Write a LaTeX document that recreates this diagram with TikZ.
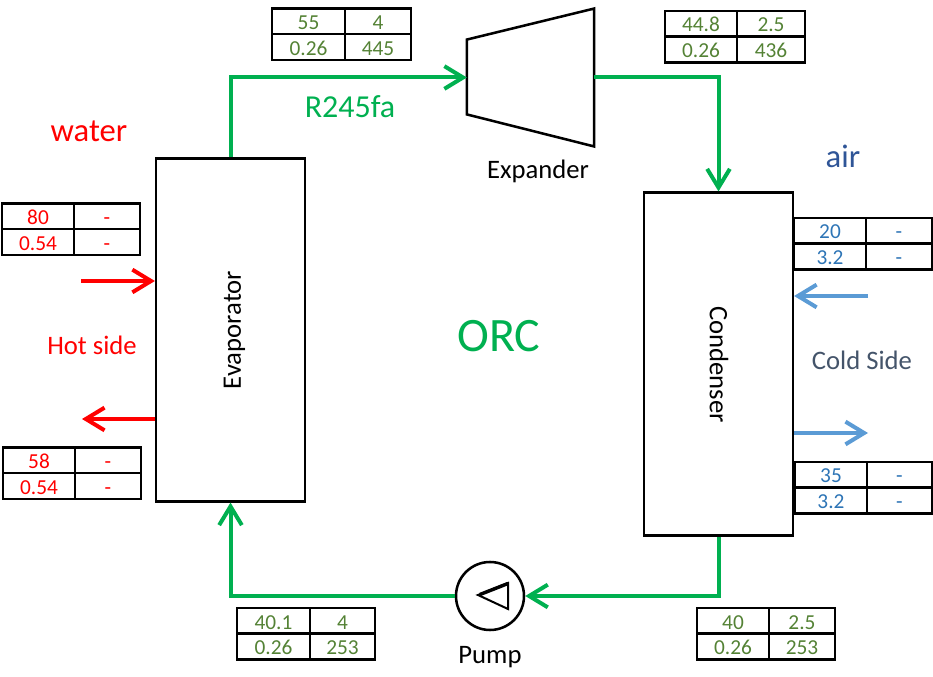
\documentclass[tikz,border=0pt]{standalone}
\usepackage{fontspec}
\setmainfont{Carlito}
\usetikzlibrary{arrows.meta,calc}
\definecolor{orcgreen}{HTML}{00B050}
\definecolor{tablegreen}{HTML}{548235}
\definecolor{hotred}{HTML}{FF0000}
\definecolor{coldblue}{HTML}{5B9BD5}
\definecolor{tableblue}{HTML}{2E75B6}
\definecolor{airblue}{HTML}{2F5597}
\definecolor{coldgray}{HTML}{44546A}
\tikzset{
  unitbox/.style={draw, line width=1.9pt, inner sep=0pt},
  flowline/.style={line width=3pt, -{Straight Barb[length=14pt,width=17pt,line width=3pt]}},
  tablecell/.style={font=\fontsize{16}{16}\selectfont, inner sep=0pt, text height=10.5pt, text depth=0pt},
  tablegrid/.style={line width=1.9pt},
  caption/.style={font=\fontsize{20}{21}\selectfont, inner sep=0pt}
}
\begin{document}
\begin{tikzpicture}[x=0.75pt,y=-0.75pt]
\useasboundingbox (0,0) rectangle (933,677);
% main components
\node[unitbox, minimum width=111.5pt, minimum height=257pt] (evaporator) at (230.5,330) {};
\node[unitbox, minimum width=111.5pt, minimum height=257pt] (condenser) at (718.5,364) {};
\node[inner sep=0pt, minimum width=95pt, minimum height=103pt] (expander) at (530.5,77.5) {};
\draw[line width=1.9pt, join=miter] (expander.north east) -- (expander.south east)
  -- ($(expander.south west)+(0,-32)$) -- ($(expander.north west)+(0,31)$) -- cycle;
\node[draw, circle, line width=1.9pt, inner sep=0pt, minimum size=51pt] (pump) at (490,596) {};
\draw[line width=1.5pt, join=miter] ($(pump.center)+(-12,-1)$) -- ($(pump.center)+(18,-13)$)
  -- ($(pump.center)+(18,13)$) -- cycle;
\draw[line width=2.6pt] ($(pump.center)+(-10,-1.5)$) -- ($(pump.center)+(18,-12.5)$);
\node[rotate=90, caption] (evaporatorlabel) at (234.5,330) {Evaporator};
\node[rotate=270, caption] (condenserlabel) at (719,364.5) {Condenser};
\node[caption] (expanderlabel) at (538,171) {Expander};
\node[caption] (pumplabel) at (490,657) {Pump};
% refrigerant loop
\draw[flowline, orcgreen] (evaporator.north) |- (expander.west);
\draw[flowline, orcgreen] (expander.east) -| (condenser.north);
\draw[flowline, orcgreen] (condenser.south) |- (pump.east);
\draw[flowline, orcgreen] (pump.west) -| (evaporator.south);
% water and air sides
\coordinate (hotin) at (81,281);
\coordinate (hotout) at (82,419);
\coordinate (coldin) at (868,296);
\coordinate (coldout) at (868,433);
\draw[flowline, hotred] (hotin) -- (evaporator.west|-hotin);
\draw[flowline, hotred] (evaporator.west|-hotout) -- (hotout);
\draw[flowline, coldblue] (coldin) -- (condenser.east|-coldin);
\draw[flowline, coldblue] (condenser.east|-coldout) -- (coldout);
\node[text=hotred, inner sep=0pt, font=\fontsize{24.5}{25}\selectfont] (water) at (89,131) {water};
\node[text=hotred, caption] (hotside) at (92,345) {Hot side};
\node[text=airblue, inner sep=0pt, font=\fontsize{24.5}{25}\selectfont] (air) at (843,156) {air};
\node[text=coldgray, caption] (coldside) at (862,360) {Cold Side};
\node[text=orcgreen, inner sep=0pt, font=\fontsize{24}{25}\selectfont] (fluid) at (350,107) {R245fa};
\node[text=orcgreen, inner sep=0pt, font=\fontsize{36}{37}\selectfont] (orc) at (499,336) {ORC};
% property tables
\foreach \n/\xa/\xb/\xc/\ya/\col/\ta/\tb/\tc/\td in {
  expin/272/345/411/8.5/tablegreen/55/4/0.26/445,
  expout/665/737/805/11/tablegreen/44.8/2.5/0.26/436,
  hotintab/2/74/140/203.5/hotred/80/-/0.54/-,
  hotouttab/3/75/141/447.5/hotred/58/-/0.54/-,
  coldintab/794/866/932/218/tableblue/20/-/3.2/-,
  coldouttab/795/867/932/462/tableblue/35/-/3.2/-,
  pumpout/237/310/375/608/tablegreen/40.1/4/0.26/253,
  pumpin/697/769/835/608/tablegreen/40/2.5/0.26/253} {
  \draw[tablegrid] (\xa,\ya) rectangle (\xc,\ya+51.4);
  \draw[tablegrid] (\xa,\ya+25.7) -- (\xc,\ya+25.7);
  \draw[tablegrid] (\xb,\ya) -- (\xb,\ya+51.4);
  \node[tablecell, text=\col] (\n-a) at ({(\xa+\xb)/2},\ya+14) {\ta};
  \node[tablecell, text=\col] (\n-b) at ({(\xb+\xc)/2},\ya+14) {\tb};
  \node[tablecell, text=\col] (\n-c) at ({(\xa+\xb)/2},\ya+39.7) {\tc};
  \node[tablecell, text=\col] (\n-d) at ({(\xb+\xc)/2},\ya+39.7) {\td};
}
\end{tikzpicture}
\end{document}
